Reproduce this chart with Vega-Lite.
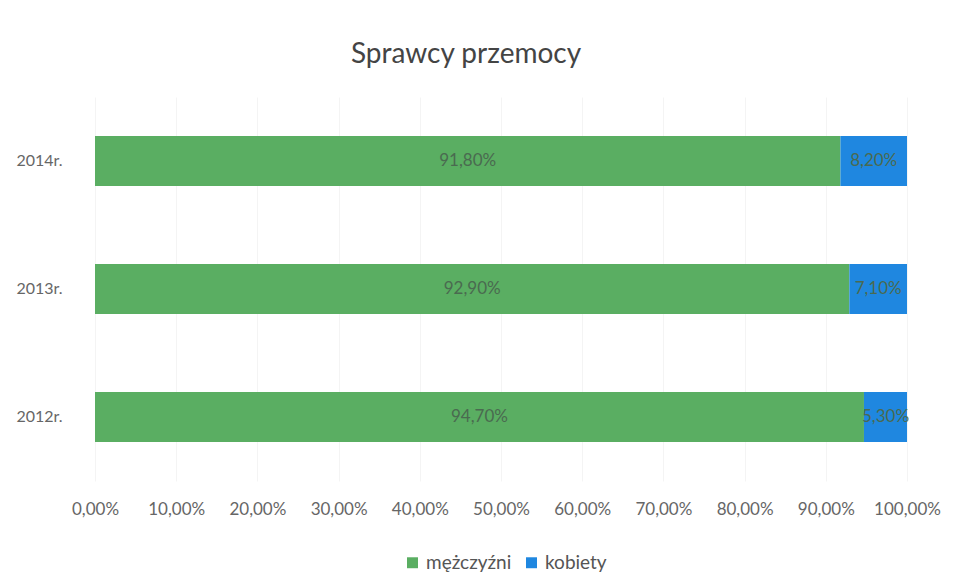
{
  "$schema": "https://vega.github.io/schema/vega-lite/v6.json",
  "autosize": "none",
  "width": 812,
  "height": 384,
  "padding": {"left": 95, "right": 52, "top": 97, "bottom": 102},
  "background": "white",
  "config": {"view": {"stroke": null}},
  "title": {"text": "Sprawcy przemocy", "fontSize": 28, "font": "Lato", "fontWeight": "normal", "color": "#444444", "offset": 28, "dx": -35},
  "data": {"values": [
    {"rok": "2014r.", "plec": "mężczyźni", "wartosc": 0.918},
    {"rok": "2014r.", "plec": "kobiety", "wartosc": 0.082},
    {"rok": "2013r.", "plec": "mężczyźni", "wartosc": 0.929},
    {"rok": "2013r.", "plec": "kobiety", "wartosc": 0.071},
    {"rok": "2012r.", "plec": "mężczyźni", "wartosc": 0.947},
    {"rok": "2012r.", "plec": "kobiety", "wartosc": 0.053}
  ]},
  "transform": [
    {"calculate": "datum.plec === 'mężczyźni' ? 0 : 1", "as": "kolejnosc"},
    {"stack": "wartosc", "groupby": ["rok"], "sort": [{"field": "kolejnosc", "order": "ascending"}], "as": ["v0", "v1"]},
    {"calculate": "(datum.v0 + datum.v1) / 2", "as": "srodek"},
    {"calculate": "replace(format(datum.wartosc, '.2%'), '.', ',')", "as": "etykieta"}
  ],
  "encoding": {
    "y": {
      "field": "rok", "type": "nominal",
      "sort": ["2014r.", "2013r.", "2012r."],
      "scale": {"paddingInner": 0.61, "paddingOuter": 0.305},
      "axis": {"title": null, "domain": false, "ticks": false, "labelPadding": 33, "labelFontSize": 16, "labelFont": "Lato", "labelColor": "#666666"}
    }
  },
  "layer": [
    {
      "mark": {"type": "bar"},
      "encoding": {
        "x": {
          "field": "v0", "type": "quantitative",
          "scale": {"domain": [0, 1]},
          "axis": {"title": null, "domain": false, "ticks": false, "values": [0,0.1,0.2,0.3,0.4,0.5,0.6,0.7,0.8,0.9,1],
            "labelExpr": "replace(format(datum.value, '.2%'), '.', ',')",
            "labelOverlap": false, "labelPadding": 20, "labelFontSize": 17, "labelFont": "Lato", "labelColor": "#666666",
            "grid": true, "gridColor": "#f4f4f4", "labelFlush": false}
        },
        "x2": {"field": "v1"},
        "color": {
          "field": "plec", "type": "nominal",
          "scale": {"domain": ["mężczyźni", "kobiety"], "range": ["#5aae62", "#1f87e0"]},
          "legend": {"title": null, "orient": "none", "legendX": 308, "legendY": 456, "direction": "horizontal",
            "symbolType": "square", "symbolSize": 120, "symbolStrokeWidth": 0, "labelFontSize": 19, "labelFont": "Lato", "labelColor": "#555555", "columnPadding": 10, "labelOffset": 4}
        }
      }
    },
    {
      "mark": {"type": "text", "fontSize": 17, "font": "Lato", "align": "center", "baseline": "middle"},
      "encoding": {
        "x": {"field": "srodek", "type": "quantitative"},
        "text": {"field": "etykieta"},
        "color": {"value": "#4a6a50"}
      }
    }
  ]
}
